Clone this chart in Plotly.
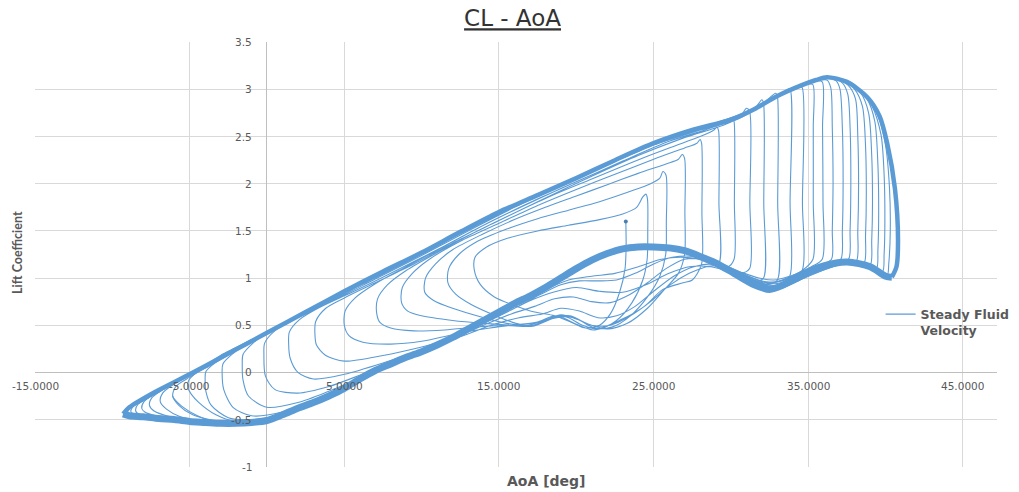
import plotly.graph_objects as go

# ---------------- axis / tick data ----------------
x_tick_vals = [-15, -5, 5, 15, 25, 35, 45]
x_tick_text = ["-15.0000", "-5.0000", "5.0000", "15.0000", "25.0000", "35.0000", "45.0000"]
y_tick_vals = [-1, -0.5, 0, 0.5, 1, 1.5, 2, 2.5, 3, 3.5]
y_tick_text = ["-1", "-0.5", "0", "0.5", "1", "1.5", "2", "2.5", "3", "3.5"]
x_grid_vals = [-5, 5, 15, 25, 35, 45]

# ---------------- limit cycle (outer, converged loop) ----------------
outer_upper_x = [-9.3, -8.9, -7.5, -5.0, -2.5, 0.0, 2.5, 5.0, 7.5, 10.0, 12.5, 15.0, 17.5, 20.0, 22.5, 25.0,
                 27.5, 30.0, 31.5, 33.0, 34.5, 35.5, 36.2, 37.5, 38.8, 39.6, 40.1, 40.6, 40.8, 40.7, 40.4]
outer_upper_y = [-0.44, -0.37, -0.23, -0.02, 0.20, 0.42, 0.64, 0.86, 1.07, 1.27, 1.49, 1.70, 1.88, 2.06, 2.25, 2.43,
                 2.57, 2.68, 2.79, 2.93, 3.04, 3.10, 3.13, 3.08, 2.92, 2.72, 2.43, 1.95, 1.40, 1.12, 1.01]
outer_lower_x = [40.4, 40.0, 39.0, 37.5, 36.0, 34.5, 33.3, 32.5, 31.5, 30.2, 29.0, 28.0, 27.0, 26.0, 25.0, 24.0,
                 23.0, 22.0, 21.0, 20.0, 19.0, 18.0, 17.0, 16.0, 15.0, 14.0, 13.0, 12.0, 11.0, 10.0, 9.0, 8.0,
                 7.0, 6.0, 5.0, 4.0, 3.0, 2.0, 1.0, 0.0, -1.0, -2.0, -3.0, -4.0, -5.0, -6.0, -7.0, -8.0, -8.9, -9.3]
outer_lower_y = [1.01, 1.02, 1.12, 1.17, 1.13, 1.03, 0.92, 0.88, 0.93, 1.05, 1.16, 1.23, 1.29, 1.32, 1.33, 1.33,
                 1.31, 1.26, 1.19, 1.10, 1.00, 0.90, 0.81, 0.73, 0.64, 0.55, 0.46, 0.37, 0.29, 0.22, 0.16, 0.09,
                 0.02, -0.07, -0.17, -0.25, -0.32, -0.38, -0.45, -0.51, -0.53, -0.54, -0.54, -0.53, -0.52, -0.50,
                 -0.49, -0.47, -0.46, -0.44]

# ---------------- transient spiral (start point first) ----------------
lower_0 = [(23.2, 1.60), (23.22, 1.35), (23.15, 1.10), (22.8, 0.85), (22.2, 0.62), (21.5, 0.50), (20.6, 0.47),
           (19.7, 0.53), (18.6, 0.60), (17.3, 0.64), (16.0, 0.71), (14.7, 0.80), (13.8, 0.93), (13.4, 1.09)]
upper_1 = [(13.45, 1.22), (14.2, 1.33), (15.5, 1.42), (17.5, 1.50), (19.5, 1.56), (21.5, 1.62), (23.0, 1.68),
           (23.9, 1.75), (24.3, 1.86), (24.5, 1.89), (24.6, 1.84)]
lower_1 = [(24.62, 1.50), (24.58, 1.20), (24.3, 0.98), (23.6, 0.74), (22.6, 0.55), (21.5, 0.46), (20.4, 0.50),
           (19.3, 0.59), (18.2, 0.56), (17.2, 0.50), (16.1, 0.52), (14.8, 0.60), (13.2, 0.72), (12.2, 0.83),
           (11.7, 0.95)]
upper_2 = [(11.75, 1.10), (12.4, 1.25), (13.5, 1.38), (15.5, 1.52), (17.5, 1.63), (19.5, 1.72), (21.5, 1.81),
           (23.5, 1.92), (24.8, 2.00), (25.4, 2.06), (25.6, 2.13), (25.8, 2.09)]
lower_2 = [(25.82, 1.60), (25.78, 1.25), (25.4, 1.02), (24.6, 0.80), (23.5, 0.60), (22.3, 0.48), (21.2, 0.47),
           (20.1, 0.56), (19.0, 0.61), (17.9, 0.55), (16.8, 0.50), (15.5, 0.52), (13.8, 0.59), (12.0, 0.68),
           (10.8, 0.76), (10.2, 0.85)]
upper_3 = [(10.25, 1.00), (10.9, 1.15), (12.0, 1.30), (14.0, 1.47), (16.0, 1.62), (18.0, 1.75), (20.0, 1.87),
           (22.0, 1.99), (24.0, 2.11), (25.8, 2.21), (26.6, 2.26), (26.85, 2.31), (27.0, 2.27)]
lower_3 = [(27.02, 1.70), (27.0, 1.25), (26.6, 1.05), (25.7, 0.88), (24.6, 0.68), (23.3, 0.52), (22.0, 0.46),
           (20.8, 0.51), (19.6, 0.60), (18.5, 0.58), (17.3, 0.50), (16.0, 0.50), (14.0, 0.52), (12.0, 0.55),
           (10.0, 0.60), (9.1, 0.65), (8.7, 0.74)]
upper_4 = [(8.75, 0.90), (9.4, 1.05), (10.5, 1.20), (12.5, 1.39), (15.0, 1.58), (17.5, 1.77), (20.0, 1.94),
           (22.5, 2.10), (25.0, 2.26), (27.0, 2.38), (27.8, 2.43), (28.0, 2.47), (28.1, 2.43)]
lower_4 = [(28.12, 1.70), (28.1, 1.15), (27.5, 0.98), (26.9, 0.95), (25.6, 0.88), (24.4, 0.70), (22.9, 0.56),
           (21.1, 0.45), (20.0, 0.51), (18.9, 0.59), (17.2, 0.49), (15.3, 0.50), (13.5, 0.48), (11.5, 0.45),
           (9.5, 0.44), (8.0, 0.47), (7.3, 0.53), (7.1, 0.62)]
upper_5 = [(7.15, 0.78), (7.8, 0.93), (9.0, 1.08), (11.0, 1.27), (13.5, 1.49), (16.0, 1.69), (18.5, 1.88),
           (21.0, 2.05), (23.5, 2.22), (26.0, 2.38), (28.0, 2.50), (28.9, 2.57), (29.1, 2.60), (29.2, 2.56)]
lower_5 = [(29.22, 1.80), (29.2, 1.15), (28.4, 1.12), (27.3, 1.05), (26.0, 0.92), (24.8, 0.75), (23.5, 0.60),
           (22.2, 0.50), (21.0, 0.50), (19.8, 0.58), (18.6, 0.60), (17.4, 0.53), (15.8, 0.50), (14.0, 0.46),
           (12.0, 0.40), (10.0, 0.33), (8.0, 0.30), (6.2, 0.32), (5.3, 0.39), (5.0, 0.50)]
upper_6 = [(5.05, 0.65), (5.7, 0.79), (7.0, 0.94), (9.0, 1.12), (11.5, 1.34), (14.0, 1.56), (16.5, 1.76),
           (19.0, 1.95), (21.5, 2.13), (24.0, 2.30), (26.5, 2.46), (28.5, 2.58), (29.8, 2.66), (30.1, 2.70),
           (30.2, 2.66)]
lower_6 = [(30.22, 1.80), (30.2, 1.20), (29.8, 1.12), (28.8, 1.15), (27.6, 1.12), (26.3, 1.02), (25.0, 0.86),
           (23.8, 0.70), (22.6, 0.60), (21.4, 0.58), (20.2, 0.65), (19.0, 0.68), (17.8, 0.62), (16.3, 0.58),
           (14.5, 0.50), (12.5, 0.38), (10.0, 0.27), (7.5, 0.18), (5.0, 0.12), (3.8, 0.18), (3.2, 0.29),
           (3.1, 0.40)]
upper_7 = [(3.15, 0.54), (3.8, 0.68), (5.0, 0.79), (7.0, 0.95), (9.5, 1.15), (12.0, 1.37), (15.0, 1.61),
           (18.0, 1.85), (21.0, 2.08), (24.0, 2.30), (27.0, 2.49), (29.5, 2.62), (30.6, 2.71), (31.0, 2.80),
           (31.2, 2.77)]
lower_7 = [(31.22, 1.80), (31.2, 1.10), (30.6, 1.05), (29.5, 1.12), (28.3, 1.20), (27.0, 1.20), (25.8, 1.10),
           (24.6, 0.95), (23.4, 0.82), (22.2, 0.74), (21.0, 0.75), (19.8, 0.80), (18.6, 0.78), (17.3, 0.70),
           (15.8, 0.62), (14.0, 0.50), (12.0, 0.36), (10.0, 0.24), (7.5, 0.10), (5.0, -0.02), (3.0, -0.07),
           (2.0, 0.00), (1.5, 0.15), (1.4, 0.30)]
upper_8 = [(1.45, 0.43), (2.1, 0.56), (3.3, 0.68), (5.5, 0.85), (8.0, 1.05), (11.0, 1.30), (14.0, 1.56),
           (17.0, 1.80), (20.0, 2.02), (23.0, 2.24), (26.0, 2.45), (28.5, 2.58), (30.5, 2.70), (31.5, 2.79),
           (32.0, 2.89), (32.1, 2.86)]
lower_8 = [(32.12, 1.80), (32.1, 1.00), (31.5, 0.97), (30.3, 1.07), (29.0, 1.17), (27.6, 1.23), (26.2, 1.22),
           (25.0, 1.15), (23.8, 1.05), (22.6, 0.98), (21.4, 0.97), (20.2, 0.97), (19.0, 0.93), (17.6, 0.82),
           (16.0, 0.68), (14.0, 0.52), (12.0, 0.37), (10.0, 0.23), (8.0, 0.10), (6.0, -0.03), (4.0, -0.15),
           (2.0, -0.22), (0.5, -0.18), (-0.1, -0.04), (-0.2, 0.19)]
upper_9 = [(-0.15, 0.31), (0.5, 0.44), (1.8, 0.57), (4.0, 0.74), (7.0, 0.99), (10.0, 1.24), (13.0, 1.50),
           (16.0, 1.75), (19.0, 1.98), (22.0, 2.20), (25.0, 2.41), (28.0, 2.57), (30.5, 2.69), (32.0, 2.84),
           (32.9, 2.96), (33.0, 2.93)]
lower_9 = [(33.02, 1.80), (33.0, 0.98), (32.3, 0.93), (31.2, 0.98), (30.0, 1.06), (28.7, 1.12), (27.3, 1.12),
           (26.0, 1.05), (24.5, 0.93), (23.0, 0.85), (21.5, 0.86), (20.0, 0.90), (18.5, 0.85), (17.0, 0.76),
           (15.5, 0.64), (14.0, 0.53), (12.0, 0.37), (10.0, 0.22), (8.0, 0.09), (6.0, -0.06), (4.0, -0.20),
           (2.0, -0.32), (0.0, -0.37), (-1.2, -0.25), (-1.55, -0.08), (-1.6, 0.08)]
upper_10 = [(-1.55, 0.19), (-0.9, 0.31), (0.4, 0.46), (3.0, 0.66), (6.0, 0.92), (9.0, 1.17), (12.0, 1.43),
            (15.0, 1.68), (18.0, 1.91), (21.0, 2.13), (24.0, 2.35), (27.0, 2.54), (30.0, 2.67), (32.0, 2.85),
            (33.5, 2.98), (33.8, 3.01)]
lower_10 = [(33.82, 1.80), (33.8, 1.02), (33.1, 0.93), (32.2, 0.92), (31.0, 1.00), (29.8, 1.10), (28.5, 1.18),
            (27.0, 1.22), (25.5, 1.20), (24.0, 1.12), (22.5, 1.05), (21.0, 1.02), (19.5, 0.98), (18.0, 0.88),
            (16.5, 0.76), (15.0, 0.63), (13.0, 0.46), (11.0, 0.30), (9.0, 0.16), (7.0, 0.02), (5.0, -0.15),
            (3.0, -0.30), (1.0, -0.42), (-1.0, -0.46), (-2.2, -0.37), (-2.8, -0.18), (-2.9, -0.01)]
upper_11 = [(-2.85, 0.09), (-2.2, 0.20), (-0.9, 0.35), (2.0, 0.59), (5.0, 0.85), (8.0, 1.10), (11.0, 1.35),
            (14.0, 1.61), (17.0, 1.84), (20.0, 2.05), (23.0, 2.28), (26.0, 2.48), (29.0, 2.63), (31.5, 2.79),
            (33.5, 2.97), (34.4, 3.03), (34.6, 3.02)]
lower_11 = [(34.62, 1.80), (34.6, 1.08), (33.8, 0.98), (33.0, 0.92), (32.0, 0.90), (30.8, 0.99), (29.5, 1.12),
            (28.0, 1.22), (26.5, 1.30), (25.0, 1.33), (23.5, 1.32), (22.0, 1.26), (20.5, 1.15), (19.0, 1.00),
            (17.5, 0.86), (16.0, 0.73), (14.5, 0.60), (13.0, 0.46), (11.0, 0.29), (9.0, 0.16), (7.0, 0.02),
            (5.0, -0.17), (3.0, -0.32), (1.0, -0.45), (-1.0, -0.50), (-2.5, -0.48), (-3.6, -0.35),
            (-3.95, -0.20), (-4.0, -0.08)]
upper_12 = [(-3.95, 0.01), (-3.3, 0.11), (-2.0, 0.26), (1.0, 0.51), (4.0, 0.77), (7.0, 1.03), (10.0, 1.27),
            (13.0, 1.52), (16.0, 1.77), (19.0, 1.99), (22.0, 2.21), (25.0, 2.42), (28.0, 2.59), (31.0, 2.76),
            (33.5, 2.98), (35.0, 3.06), (35.3, 3.05)]
lower_12 = [(35.32, 2.60), (35.32, 1.80), (35.3, 1.20), (34.6, 1.08), (33.6, 1.00), (32.6, 0.95), (31.5, 0.98),
            (30.3, 1.08), (29.0, 1.18), (27.5, 1.27), (26.0, 1.33), (24.5, 1.34), (23.0, 1.31), (21.5, 1.23),
            (20.0, 1.10), (18.5, 0.95), (17.0, 0.81), (15.5, 0.68), (14.0, 0.55), (12.0, 0.36), (10.0, 0.22),
            (8.0, 0.09), (6.0, -0.07), (4.0, -0.25), (2.0, -0.38), (0.0, -0.49), (-2.0, -0.52), (-3.3, -0.45),
            (-4.4, -0.32), (-4.9, -0.23), (-5.1, -0.17)]
upper_13 = [(-5.05, -0.08), (-4.4, 0.02), (-3.0, 0.18), (0.0, 0.42), (3.0, 0.68), (6.0, 0.94), (9.0, 1.18),
            (12.0, 1.43), (15.0, 1.69), (18.0, 1.91), (21.0, 2.13), (24.0, 2.35), (27.0, 2.54), (30.0, 2.67),
            (32.0, 2.84), (34.0, 3.00), (35.5, 3.09), (35.9, 3.08)]
lower_13 = [(35.92, 2.60), (35.95, 1.80), (35.9, 1.20), (35.2, 1.12), (34.2, 1.04), (33.2, 0.97), (32.2, 0.94),
            (31.2, 0.99), (30.0, 1.09), (28.5, 1.20), (27.0, 1.29), (25.5, 1.34), (24.0, 1.34), (22.5, 1.29),
            (21.0, 1.19), (19.5, 1.05), (18.0, 0.91), (16.5, 0.77), (15.0, 0.64), (13.0, 0.46), (11.0, 0.29),
            (9.0, 0.16), (7.0, 0.02), (5.0, -0.17), (3.0, -0.33), (1.0, -0.46), (-1.0, -0.53), (-3.0, -0.54),
            (-4.5, -0.46), (-5.5, -0.36), (-6.0, -0.28), (-6.1, -0.25)]

# ---------------- late cycles: turn-around (nose) pieces at minimum AoA ----------------
nose_14 = [(1.0, -0.45), (-1.0, -0.51), (-3.0, -0.52), (-4.8, -0.45), (-5.7, -0.35), (-6.1, -0.25), (-5.9, -0.15),
           (-5.0, -0.05), (-3.5, 0.09), (-1.5, 0.28)]
nose_15 = [(0.0, -0.50), (-2.0, -0.53), (-4.0, -0.52), (-5.6, -0.47), (-6.5, -0.39), (-6.9, -0.31),
           (-6.75, -0.22), (-6.0, -0.12), (-4.5, 0.02), (-2.5, 0.20)]
nose_16 = [(-1.0, -0.52), (-3.0, -0.53), (-5.0, -0.51), (-6.5, -0.46), (-7.3, -0.41), (-7.6, -0.35),
           (-7.45, -0.27), (-6.7, -0.18), (-5.2, -0.04), (-3.5, 0.11)]
nose_17 = [(-2.0, -0.53), (-4.0, -0.53), (-6.0, -0.50), (-7.2, -0.46), (-7.9, -0.42), (-8.1, -0.38),
           (-7.95, -0.31), (-7.2, -0.22), (-5.8, -0.09), (-4.0, 0.07)]
nose_18 = [(-3.0, -0.54), (-5.0, -0.52), (-6.8, -0.49), (-7.9, -0.46), (-8.4, -0.43), (-8.5, -0.40),
           (-8.35, -0.34), (-7.6, -0.26), (-6.2, -0.13), (-4.5, 0.02)]
nose_19 = [(-4.0, -0.53), (-6.0, -0.51), (-7.6, -0.48), (-8.5, -0.45), (-8.8, -0.42), (-8.7, -0.37),
           (-8.0, -0.30), (-6.6, -0.17), (-5.0, -0.03)]
nose_20 = [(-5.0, -0.52), (-7.0, -0.49), (-8.3, -0.47), (-8.9, -0.45), (-9.0, -0.43), (-8.9, -0.38),
           (-8.3, -0.32), (-7.0, -0.20), (-5.5, -0.07)]
nose_21 = [(-5.5, -0.52), (-7.5, -0.49), (-8.7, -0.47), (-9.1, -0.45), (-9.15, -0.435), (-9.05, -0.39),
           (-8.5, -0.33), (-7.3, -0.22), (-5.8, -0.09)]
nose_22 = [(-6.0, -0.51), (-8.0, -0.48), (-9.0, -0.46), (-9.25, -0.44), (-9.15, -0.39), (-8.7, -0.35),
           (-7.5, -0.24), (-6.0, -0.11)]

# ---------------- late cycles: stall drop pieces at maximum AoA ----------------
drop_14 = [(34.0, 3.00), (35.5, 3.09), (36.2, 3.10), (36.45, 3.02), (36.55, 2.60), (36.6, 2.00), (36.55, 1.50),
           (36.5, 1.20), (35.8, 1.14), (34.8, 1.08), (33.8, 1.02), (32.8, 0.98), (31.8, 1.00), (30.7, 1.06),
           (29.5, 1.14), (28.3, 1.22)]
drop_15 = [(35.0, 3.06), (36.2, 3.12), (36.8, 3.09), (37.05, 3.00), (37.2, 2.60), (37.25, 2.00), (37.2, 1.50),
           (37.1, 1.20), (36.3, 1.16), (35.3, 1.10), (34.3, 1.04), (33.3, 0.97), (32.3, 0.96), (31.2, 1.01),
           (30.0, 1.10), (28.8, 1.19)]
drop_16 = [(35.5, 3.09), (36.4, 3.13), (37.2, 3.07), (37.55, 2.95), (37.7, 2.60), (37.75, 2.00), (37.7, 1.50),
           (37.6, 1.20), (36.8, 1.17), (35.8, 1.12), (34.8, 1.06), (33.8, 0.98), (32.8, 0.94), (31.7, 0.98),
           (30.5, 1.07), (29.3, 1.16)]
drop_17 = [(36.0, 3.11), (36.8, 3.12), (37.6, 3.04), (38.05, 2.90), (38.2, 2.50), (38.25, 2.00), (38.2, 1.50),
           (38.1, 1.18), (37.3, 1.17), (36.3, 1.13), (35.3, 1.07), (34.3, 1.00), (33.3, 0.93), (32.3, 0.93),
           (31.2, 1.00), (30.0, 1.10)]
drop_18 = [(36.3, 3.12), (37.2, 3.10), (38.0, 3.00), (38.5, 2.82), (38.7, 2.40), (38.75, 1.90), (38.7, 1.45),
           (38.6, 1.16), (37.8, 1.17), (36.8, 1.14), (35.8, 1.09), (34.8, 1.02), (33.8, 0.94), (32.8, 0.90),
           (31.8, 0.93), (30.6, 1.03)]
drop_19 = [(36.5, 3.13), (37.5, 3.08), (38.4, 2.96), (38.9, 2.75), (39.1, 2.30), (39.15, 1.80), (39.1, 1.40),
           (39.0, 1.14), (38.2, 1.16), (37.2, 1.15), (36.2, 1.10), (35.2, 1.04), (34.2, 0.96), (33.2, 0.90),
           (32.2, 0.89), (31.0, 0.98)]
drop_20 = [(36.8, 3.12), (37.9, 3.05), (38.8, 2.90), (39.3, 2.66), (39.5, 2.20), (39.55, 1.70), (39.5, 1.30),
           (39.4, 1.10), (38.6, 1.15), (37.6, 1.16), (36.6, 1.12), (35.6, 1.06), (34.6, 0.99), (33.6, 0.91),
           (32.6, 0.88)]
drop_21 = [(37.0, 3.11), (38.2, 3.02), (39.1, 2.83), (39.7, 2.52), (39.9, 2.10), (39.95, 1.60), (39.9, 1.25),
           (39.8, 1.07), (39.0, 1.13), (38.0, 1.16), (37.0, 1.15), (36.0, 1.10), (35.0, 1.03), (34.0, 0.95),
           (33.0, 0.89)]
drop_22 = [(37.3, 3.10), (38.5, 2.98), (39.5, 2.72), (40.0, 2.40), (40.25, 1.95), (40.3, 1.50), (40.2, 1.15),
           (40.1, 1.03), (39.3, 1.11), (38.3, 1.15), (37.3, 1.16), (36.3, 1.12), (35.3, 1.05), (34.3, 0.97),
           (33.3, 0.90)]

LINE_COLOR = "#5B9BD5"
TEXT_COLOR = "#595959"

spiral_order = [lower_0, upper_1, lower_1, upper_2, lower_2, upper_3, lower_3, upper_4, lower_4,
                upper_5, lower_5, upper_6, lower_6, upper_7, lower_7, upper_8, lower_8, upper_9, lower_9,
                upper_10, lower_10, upper_11, lower_11, upper_12, lower_12, upper_13, lower_13]
spiral_x = [p[0] for seg in spiral_order for p in seg]
spiral_y = [p[1] for seg in spiral_order for p in seg]

late_pieces = [nose_14, nose_15, nose_16, nose_17, nose_18, nose_19, nose_20, nose_21, nose_22,
               drop_14, drop_15, drop_16, drop_17, drop_18, drop_19, drop_20, drop_21, drop_22]
late_x, late_y = [], []
for seg in late_pieces:
    late_x += [p[0] for p in seg] + [None]
    late_y += [p[1] for p in seg] + [None]

fig = go.Figure()

fig.add_trace(go.Scatter(x=spiral_x, y=spiral_y, mode="lines",
                         line=dict(color=LINE_COLOR, width=1.1, shape="spline", smoothing=0.8),
                         name="Steady Fluid<br>Velocity", showlegend=True, legendrank=1))
fig.add_trace(go.Scatter(x=late_x, y=late_y, mode="lines", connectgaps=False,
                         line=dict(color=LINE_COLOR, width=1.1, shape="spline", smoothing=0.8),
                         showlegend=False, hoverinfo="skip"))
fig.add_trace(go.Scatter(x=outer_lower_x, y=outer_lower_y, mode="lines",
                         line=dict(color=LINE_COLOR, width=7, shape="spline", smoothing=0.8),
                         showlegend=False, hoverinfo="skip"))
fig.add_trace(go.Scatter(x=outer_upper_x, y=outer_upper_y, mode="lines",
                         line=dict(color=LINE_COLOR, width=4.5, shape="spline", smoothing=0.8),
                         showlegend=False, hoverinfo="skip"))
fig.add_trace(go.Scatter(x=[lower_0[0][0]], y=[lower_0[0][1]], mode="markers",
                         marker=dict(color="#4A7FB0", size=4), showlegend=False, hoverinfo="skip"))

annotations = []
for v, t in zip(x_tick_vals, x_tick_text):
    annotations.append(dict(x=v, y=0, xref="x", yref="y", text=t, showarrow=False, yshift=-14,
                            xanchor="center", yanchor="middle",
                            font=dict(family="DejaVu Sans", size=10.5, color=TEXT_COLOR)))
for v, t in zip(y_tick_vals, y_tick_text):
    annotations.append(dict(x=0, y=v, xref="x", yref="y", text=t, showarrow=False, xshift=-13,
                            xanchor="right", yanchor="middle",
                            font=dict(family="DejaVu Sans", size=10.5, color=TEXT_COLOR)))
annotations.append(dict(x=0.532, y=-0.033, xref="paper", yref="paper", text="<b>AoA [deg]</b>",
                        showarrow=False, xanchor="center", yanchor="middle",
                        font=dict(family="DejaVu Sans", size=14, color=TEXT_COLOR)))
annotations.append(dict(x=-0.0177, y=0.506, xref="paper", yref="paper", text="<b>Lift Coefficient</b>",
                        showarrow=False, xanchor="center", yanchor="middle", textangle=-90,
                        font=dict(family="Lato", size=12.5, color=TEXT_COLOR)))

fig.update_layout(
    width=1019, height=492,
    margin=dict(l=35, r=22, t=42, b=25, autoexpand=False),
    paper_bgcolor="white", plot_bgcolor="white",
    title=dict(text="<u>CL - AoA</u>", x=0.503, xanchor="center", y=0.963, yanchor="middle",
               font=dict(family="DejaVu Sans", size=23, color="#333333")),
    xaxis=dict(range=[-15, 47.2], tickvals=x_grid_vals, showticklabels=False, ticks="",
               showgrid=True, gridcolor="#D9D9D9", gridwidth=1,
               zeroline=True, zerolinecolor="#BFBFBF", zerolinewidth=1, showline=False),
    yaxis=dict(range=[-1.003, 3.503], tickvals=y_tick_vals, showticklabels=False, ticks="",
               showgrid=True, gridcolor="#D9D9D9", gridwidth=1,
               zeroline=True, zerolinecolor="#BFBFBF", zerolinewidth=1, showline=False),
    legend=dict(x=0.879, y=0.394, xanchor="left", yanchor="top", bgcolor="rgba(0,0,0,0)",
                valign="top", itemwidth=30,
                font=dict(family="DejaVu Sans", size=12.5, color=TEXT_COLOR, weight="bold")),
    annotations=annotations,
)

fig.write_html("out.html", config={"displayModeBar": False},
               post_script="document.body.style.margin='0px';")
